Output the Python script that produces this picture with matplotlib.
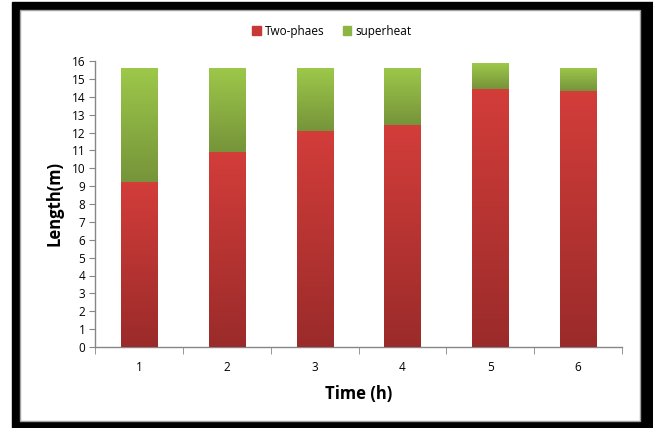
import numpy as np
import matplotlib
matplotlib.use("Agg")
import matplotlib.pyplot as plt
from matplotlib.patches import Rectangle, Patch
from matplotlib.colors import LinearSegmentedColormap

# data
hours = ["1", "2", "3", "4", "5", "6"]
two_phase = [9.25, 10.9, 12.1, 12.4, 14.45, 14.3]
superheat = [6.35, 4.7, 3.5, 3.2, 1.45, 1.3]

plt.rcParams['font.family'] = ['Open Sans', 'DejaVu Sans']

fig = plt.figure(figsize=(6.53, 4.28), dpi=100)
W, H = 653, 428

# black frame around the chart area
fig.patches.append(Rectangle((12 / W, 0), (653 - 12) / W, (428 - 2) / H,
                             transform=fig.transFigure, color='black', zorder=-2))
fig.patches.append(Rectangle((20 / W, (428 - 421) / H), (640 - 20) / W, (421 - 10) / H,
                             transform=fig.transFigure, facecolor='white',
                             edgecolor='#a0a0a0', linewidth=1, zorder=-1))

ax = fig.add_axes([95 / W, (428 - 347) / H, (622 - 95) / W, (347 - 61) / H])
ax.set_facecolor('none')
ax.set_zorder(2)

red_cmap = LinearSegmentedColormap.from_list('r', ['#9a2b2a', '#d33d3a'])
green_cmap = LinearSegmentedColormap.from_list('g', ['#76943a', '#9dc84a'])

x = np.arange(len(hours))
bw = 0.41
grad = np.linspace(0, 1, 256).reshape(-1, 1)

def gradient_bars(bottoms, heights, cmap, color):
    bars = ax.bar(x, heights, bw, bottom=bottoms, color=color, zorder=2)
    for b in bars:
        bx, by = b.get_x(), b.get_y()
        im = ax.imshow(grad, cmap=cmap, aspect='auto', origin='lower',
                       extent=[bx, bx + b.get_width(), by, by + b.get_height()], zorder=3)
        im.set_clip_path(b)
    return bars

gradient_bars(np.zeros(len(hours)), two_phase, red_cmap, '#c0392b')
gradient_bars(two_phase, superheat, green_cmap, '#8db543')

ax.set_xlim(-0.5, len(hours) - 0.5)
ax.set_ylim(0, 16)
ax.set_yticks(range(0, 17))
ax.set_xticks(x)
ax.set_xticklabels(hours)
ax.set_xticks(np.arange(-0.5, len(hours)), minor=True)

for s in ['top', 'right']:
    ax.spines[s].set_visible(False)
for s in ['left', 'bottom']:
    ax.spines[s].set_color('#868686')
    ax.spines[s].set_linewidth(1)

ax.tick_params(axis='y', length=4, color='#868686', labelsize=8.5, pad=3)
ax.tick_params(axis='x', which='major', length=0, labelsize=8.5, pad=10)
ax.tick_params(axis='x', which='minor', length=5, color='#868686')

ax.set_ylabel('Length(m)', fontsize=12, fontweight='bold', labelpad=6)
ax.set_xlabel('Time (h)', fontsize=12, fontweight='bold', labelpad=8)

handles = [Patch(color='#c63936'), Patch(color='#8db543')]
fig.legend(handles, ['Two-phaes', 'superheat'], loc='center',
           bbox_to_anchor=(332 / W, 1 - 31 / H), ncol=2, frameon=False,
           fontsize=8.5, handlelength=0.7, handleheight=0.7,
           handletextpad=0.4, columnspacing=1.5)

fig.savefig('out.png', dpi=100)
